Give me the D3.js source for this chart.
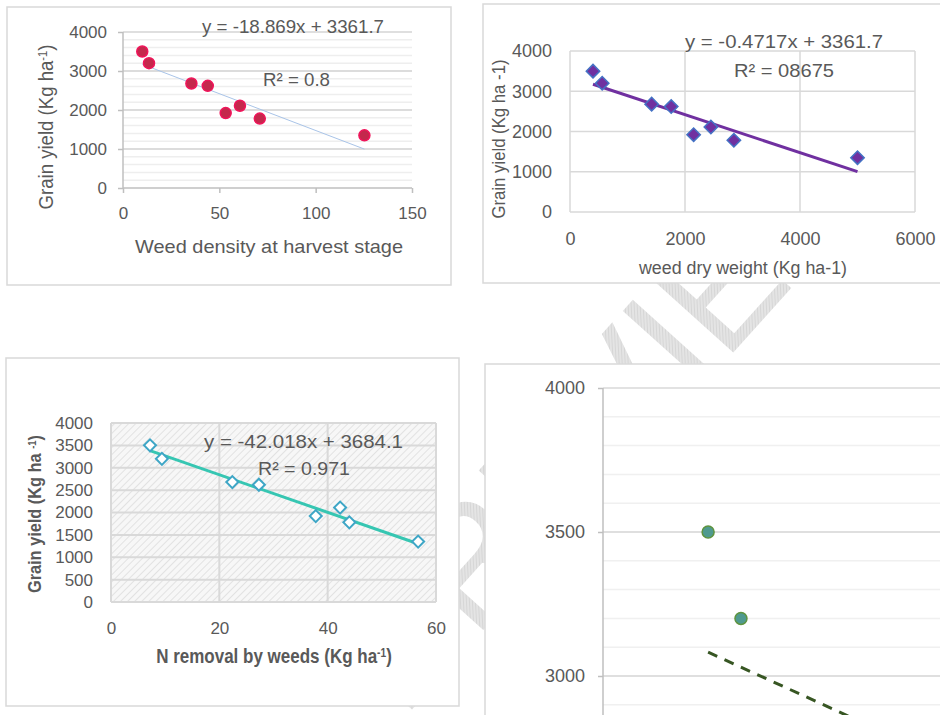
<!DOCTYPE html>
<html>
<head>
  <meta charset="utf8">
  <style type="text/css">
    body { margin: 0; background: #fff; }
    text { font-family: "Liberation Sans", Arial, sans-serif; fill: #595959; }
    .bold { font-weight: bold; }
  </style>
</head>
<body>
<script src="https://d3js.org/d3.v7.min.js"></script>
<script type="text/javascript">

// grain yield of the 8 treatments (Kg ha-1), same in every panel
var grainYield = [3500, 3200, 2680, 2620, 1920, 2110, 1780, 1350];

// explanatory variables
var weedDensity   = [10, 13.5, 35.5, 44, 53.3, 60.7, 71, 125.3];
var weedDryWeight = [400, 560, 1420, 1760, 2150, 2450, 2850, 5000];
var nRemoval      = [7.2, 9.4, 22.4, 27.3, 37.8, 42.3, 44, 56.7];
var lastPanelX    = [7.2, 9.45, 22.4, 27.3, 37.8, 42.3, 44, 56.7];

// trend lines [slope, intercept]
var trendDensity = [-18.869, 3361.7];
var trendDry     = [-0.4717, 3361.7];
var trendN       = [-42.018, 3684.1];
var trendLast    = [-23.1, 3249];

// ticks
var densityTicks = [0, 50, 100, 150];
var dryTicks     = [0, 2000, 4000, 6000];
var nTicks       = [0, 20, 40, 60];
var yTicks1000   = [0, 1000, 2000, 3000, 4000];
var yTicks500    = [0, 500, 1000, 1500, 2000, 2500, 3000, 3500, 4000];
var lastTicks    = [3000, 3500, 4000];

var eqDensity = ['y = -18.869x + 3361.7', 'R² = 0.8'];
var eqDry     = ['y = -0.4717x + 3361.7', 'R² = 08675'];
var eqN       = ['y = -42.018x + 3684.1', 'R² = 0.971'];

var fmt = d3.format('d');

var svg = d3.select('body').append('svg')
    .attr('width', 940)
    .attr('height', 715);

var defs = svg.append('defs');

var hatch = defs.append('pattern')
    .attr('id', 'hatch')
    .attr('width', 5).attr('height', 5)
    .attr('patternUnits', 'userSpaceOnUse')
    .attr('patternTransform', 'rotate(45)');
hatch.append('rect').attr('width', 5).attr('height', 5).attr('fill', '#f7f7f7');
hatch.append('line').attr('x1', 0).attr('y1', 0).attr('x2', 0).attr('y2', 5)
    .attr('stroke', '#e2e2e2').attr('stroke-width', 2);

var wm = defs.append('pattern')
    .attr('id', 'wm')
    .attr('width', 3).attr('height', 3)
    .attr('patternUnits', 'userSpaceOnUse')
    .attr('patternTransform', 'rotate(45)');
wm.append('rect').attr('width', 3).attr('height', 3).attr('fill', '#e4e4e4');
wm.append('line').attr('x1', 0).attr('y1', 0).attr('x2', 0).attr('y2', 3)
    .attr('stroke', '#c9c9c9').attr('stroke-width', 1);

// watermark behind the panels
svg.append('text')
    .attr('transform', 'translate(650,445) rotate(-48)')
    .attr('text-anchor', 'middle')
    .style('font-size', '160px')
    .style('fill', 'url(#wm)')
    .text('PREVIEW');

function box(x, y, w, h) {
  svg.append('rect')
    .attr('x', x).attr('y', y).attr('width', w).attr('height', h)
    .attr('fill', '#fff')
    .attr('stroke', '#d9d9d9')
    .attr('stroke-width', 1.5);
}

function styleAxis(g, size) {
  g.select('.domain').remove();
  g.selectAll('.tick line').attr('stroke', '#bfbfbf').attr('stroke-width', 1.5);
  g.selectAll('.tick text')
    .style('font-size', size + 'px')
    .style('fill', '#595959')
    .attr('fill', null);
}

function hLines(g, scale, values, x0, x1, color, width) {
  g.selectAll(null).data(values).enter().append('line')
    .attr('x1', x0).attr('x2', x1)
    .attr('y1', function(d) { return scale(d); })
    .attr('y2', function(d) { return scale(d); })
    .attr('stroke', color).attr('stroke-width', width);
}

function vLines(g, scale, values, y0, y1, color, width) {
  g.selectAll(null).data(values).enter().append('line')
    .attr('y1', y0).attr('y2', y1)
    .attr('x1', function(d) { return scale(d); })
    .attr('x2', function(d) { return scale(d); })
    .attr('stroke', color).attr('stroke-width', width);
}

function trend(g, xs, coef, x, y) {
  var ext = d3.extent(xs);
  return g.append('line')
    .attr('x1', x(ext[0])).attr('y1', y(coef[0] * ext[0] + coef[1]))
    .attr('x2', x(ext[1])).attr('y2', y(coef[0] * ext[1] + coef[1]));
}

// text with an optional superscript piece, squeezed horizontally by sx
function title(g, x, y, rot, parts, size, cls, sx) {
  var t = g.append('text')
    .attr('transform', 'translate(' + x + ',' + y + ') rotate(' + rot + ') scale(' + sx + ',1)')
    .attr('text-anchor', 'middle')
    .attr('class', cls || null)
    .style('font-size', size + 'px');
  parts.forEach(function(p) {
    var s = t.append('tspan').text(p[0]);
    if (p[1]) s.attr('baseline-shift', 'super').style('font-size', Math.round(size * 0.6) + 'px');
  });
  return t;
}

function label(g, x, y, str, size, anchor, len) {
  var t = g.append('text')
    .attr('x', x).attr('y', y)
    .attr('text-anchor', anchor || 'start')
    .style('font-size', size + 'px')
    .text(str);
  if (len) t.attr('textLength', len).attr('lengthAdjust', 'spacingAndGlyphs');
  return t;
}

var square = d3.symbol().type(d3.symbolSquare);

/* ---------- panel 1: weed density ---------- */
box(7, 7, 444, 278);
var p1 = svg.append('g');
var x1 = d3.scaleLinear().domain([0, 150]).range([123, 412]);
var y1 = d3.scaleLinear().domain([0, 4000]).range([188, 32]);

hLines(p1, y1, d3.range(200, 4000, 200), 123, 412, '#eeeeee', 1.5);
hLines(p1, y1, yTicks1000.slice(1), 123, 412, '#d4d4d4', 1.5);

var ax1 = p1.append('g').attr('transform', 'translate(0,188)')
    .call(d3.axisBottom(x1).tickValues(densityTicks).tickFormat(fmt)
      .tickSize(5).tickSizeOuter(0).tickPadding(14));
styleAxis(ax1, 17);
var ay1 = p1.append('g').attr('transform', 'translate(123,0)')
    .call(d3.axisLeft(y1).tickValues(yTicks1000).tickFormat(fmt)
      .tickSize(5).tickSizeOuter(0).tickPadding(11));
styleAxis(ay1, 17);
p1.append('line').attr('x1', 123).attr('x2', 123).attr('y1', 32).attr('y2', 188)
  .attr('stroke', '#bfbfbf').attr('stroke-width', 1.5);
p1.append('line').attr('x1', 123).attr('x2', 412).attr('y1', 188).attr('y2', 188)
  .attr('stroke', '#bfbfbf').attr('stroke-width', 1.5);

trend(p1, weedDensity, trendDensity, x1, y1)
  .attr('stroke', '#a9c4e8').attr('stroke-width', 1);

p1.selectAll('circle').data(grainYield).enter().append('circle')
  .attr('cx', function(d, i) { return x1(weedDensity[i]); })
  .attr('cy', function(d) { return y1(d); })
  .attr('r', 5.5)
  .attr('fill', '#c4284c')
  .attr('stroke', '#f0145a')
  .attr('stroke-width', 1.5);

label(p1, 202, 33, eqDensity[0], 19, 'start', 182);
label(p1, 263, 86, eqDensity[1], 19, 'start', 67);
label(p1, 269, 253, 'Weed density at harvest stage', 19, 'middle', 268);
title(p1, 53, 127, -90, [['Grain yield (Kg ha'], ['-1', true], [')']], 20, null, 0.93);

/* ---------- panel 2: weed dry weight ---------- */
box(483, 4, 470, 279);
var p2 = svg.append('g');
var x2 = d3.scaleLinear().domain([0, 6000]).range([570, 915]);
var y2 = d3.scaleLinear().domain([0, 4000]).range([212, 51]);

hLines(p2, y2, yTicks1000, 570, 915, '#d9d9d9', 1.5);
vLines(p2, x2, dryTicks, 51, 212, '#d9d9d9', 1.5);

var ax2 = p2.append('g').attr('transform', 'translate(0,212)')
    .call(d3.axisBottom(x2).tickValues(dryTicks).tickFormat(fmt).tickSize(0).tickPadding(20));
styleAxis(ax2, 18);
var ay2 = p2.append('g').attr('transform', 'translate(570,0)')
    .call(d3.axisLeft(y2).tickValues(yTicks1000).tickFormat(fmt).tickSize(0).tickPadding(18));
styleAxis(ay2, 18);

trend(p2, weedDryWeight, trendDry, x2, y2)
  .attr('stroke', '#7030a0').attr('stroke-width', 3);

p2.selectAll('path.pt').data(grainYield).enter().append('path')
  .attr('class', 'pt')
  .attr('d', square.size(90))
  .attr('transform', function(d, i) {
    return 'translate(' + x2(weedDryWeight[i]) + ',' + y2(d) + ') rotate(45)';
  })
  .attr('fill', '#7030a0')
  .attr('stroke', '#4472c4')
  .attr('stroke-width', 1.5);

label(p2, 685, 48, eqDry[0], 19, 'start', 198);
label(p2, 734, 77, eqDry[1], 19, 'start', 100);
label(p2, 743, 274, 'weed dry weight (Kg ha-1)', 18, 'middle', 208);
title(p2, 505, 139, -90, [['Grain yield (Kg ha -1)']], 18, null, 0.93);

/* ---------- panel 3: N removal ---------- */
box(6, 358, 453, 348);
var p3 = svg.append('g');
var x3 = d3.scaleLinear().domain([0, 60]).range([111, 436]);
var y3 = d3.scaleLinear().domain([0, 4000]).range([602, 423]);

p3.append('rect').attr('x', 111).attr('y', 423).attr('width', 325).attr('height', 179)
  .attr('fill', 'url(#hatch)');
hLines(p3, y3, yTicks500, 111, 436, '#d9d9d9', 2);
vLines(p3, x3, nTicks, 423, 602, '#d9d9d9', 2);

var ax3 = p3.append('g').attr('transform', 'translate(0,602)')
    .call(d3.axisBottom(x3).tickValues(nTicks).tickFormat(fmt).tickSize(0).tickPadding(20));
styleAxis(ax3, 17);
var ay3 = p3.append('g').attr('transform', 'translate(111,0)')
    .call(d3.axisLeft(y3).tickValues(yTicks500).tickFormat(fmt).tickSize(0).tickPadding(18));
styleAxis(ay3, 17);

trend(p3, nRemoval, trendN, x3, y3)
  .attr('stroke', '#36c6b2').attr('stroke-width', 3);

p3.selectAll('path.pt').data(grainYield).enter().append('path')
  .attr('class', 'pt')
  .attr('d', square.size(72))
  .attr('transform', function(d, i) {
    return 'translate(' + x3(nRemoval[i]) + ',' + y3(d) + ') rotate(45)';
  })
  .attr('fill', '#fff')
  .attr('stroke', '#3ea6c6')
  .attr('stroke-width', 2);

label(p3, 204, 448, eqN[0], 19, 'start', 199);
label(p3, 258, 475, eqN[1], 19, 'start', 92);
title(p3, 274, 663, 0, [['N removal by weeds (Kg ha'], ['-1', true], [')']], 20, 'bold', 0.85);
title(p3, 41, 514, -90, [['Grain yield (Kg ha '], ['-1', true], [')']], 19, 'bold', 0.86);

/* ---------- panel 4: cropped chart ---------- */
box(485, 364, 480, 400);
var p4 = svg.append('g');
var x4 = d3.scaleLinear().domain([0, 60]).range([603, 1479]);
var y4 = d3.scaleLinear().domain([0, 4000]).range([1540, 388]);

hLines(p4, y4, d3.range(2800, 4000, 100), 603, 960, '#f0f0f0', 1.5);
hLines(p4, y4, lastTicks, 603, 960, '#d9d9d9', 1.5);

var ay4 = p4.append('g').attr('transform', 'translate(603,0)')
    .call(d3.axisLeft(y4).tickValues(lastTicks).tickFormat(fmt)
      .tickSize(5).tickSizeOuter(0).tickPadding(13));
styleAxis(ay4, 18);
p4.append('line').attr('x1', 603).attr('x2', 603).attr('y1', 388).attr('y2', 760)
  .attr('stroke', '#bfbfbf').attr('stroke-width', 1.5);

trend(p4, lastPanelX, trendLast, x4, y4)
  .attr('stroke', '#375623').attr('stroke-width', 3)
  .attr('stroke-dasharray', '10,8');

p4.selectAll('circle').data(grainYield).enter().append('circle')
  .attr('cx', function(d, i) { return x4(lastPanelX[i]); })
  .attr('cy', function(d) { return y4(d); })
  .attr('r', 6)
  .attr('fill', '#4f9a8f')
  .attr('stroke', '#5e9440')
  .attr('stroke-width', 1.5);

</script>
</body>
</html>
